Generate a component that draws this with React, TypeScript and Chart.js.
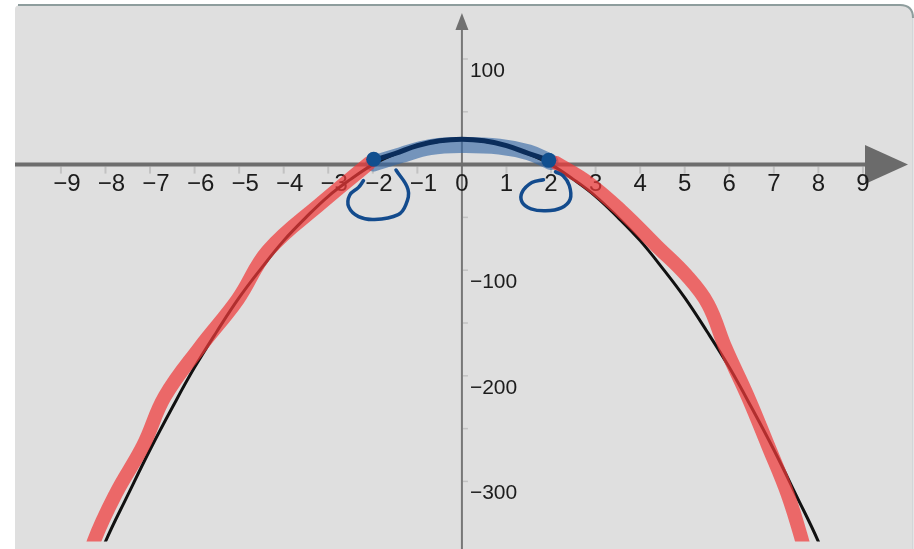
import { useEffect, useRef } from "react";
import { Chart, registerables } from "chart.js";

Chart.register(...registerables);

// Axis ticks and labels
const X_TICKS = [-9, -8, -7, -6, -5, -4, -3, -2, -1, 0, 1, 2, 3, 4, 5, 6, 7, 8, 9];
const Y_LABELS = [100, -100, -200, -300];
const Y_MINOR = [100, 50, -50, -100, -150, -200, -250, -300];

// The parabola
const CURVE_X = [-8.5, -8, -7.5, -7, -6.5, -6, -5.5, -5, -4.5, -4, -3.5, -3, -2.5, -2, -1.5, -1, -0.5, 0, 0.5, 1, 1.5, 2, 2.5, 3, 3.5, 4, 4.5, 5, 5.5, 6, 6.5, 7, 7.5, 8, 8.5];
const CURVE_Y = [-410, -357, -313, -270, -230, -192, -158, -126, -98, -72, -50, -30, -14, 0, 10, 18, 22, 24, 22, 18, 10, 0, -14, -30, -50, -72, -98, -126, -158, -192, -230, -270, -313, -357, -410];

// Dark arc between the two roots
const ARC_X = [-1.98, -1.5, -1, -0.5, 0, 0.5, 1, 1.5, 1.95];
const ARC_Y = [4, 10.5, 18, 22.5, 24, 22.5, 18, 10.5, 4];

// Light blue marker stroke under the arc
const BAND_X = [-1.99, -1.37, -0.71, 0, 0.84, 1.5, 1.99];
const BAND_Y = [1, 9, 16.5, 18.5, 17, 11.5, 2.5];

// Red marker strokes on the falling branches
const RED_LEFT_X = [-2.08, -3.13, -4.35, -5.03, -5.89, -6.67, -7.15, -7.77, -8.26, -8.34];
const RED_LEFT_Y = [1.4, -35.5, -81.5, -127.6, -173.6, -219.7, -265.7, -311.8, -356.9, -376];
const RED_RIGHT_X = [2.12, 2.83, 3.6, 4.37, 5.03, 5.52, 5.92, 6.42, 6.87, 7.31, 7.64, 7.7];
const RED_RIGHT_Y = [1.4, -17, -44.7, -77, -104.5, -132, -174, -220, -266, -312, -357, -370];

// Root markers
const ROOT_X = [-1.98, 1.95];
const ROOT_Y = [5, 4];

// Hand-drawn loops around the root labels
const LOOP_LEFT_X = [-1.48, -1.21, -1.26, -1.43, -1.96, -2.32, -2.54, -2.52, -2.32, -2.21];
const LOOP_LEFT_Y = [-5.1, -23.5, -38.2, -47.4, -52, -49.3, -40.1, -29, -21.6, -15.2];
const LOOP_RIGHT_X = [1.83, 1.57, 1.35, 1.35, 1.55, 1.88, 2.23, 2.43, 2.41, 2.27, 2.1];
const LOOP_RIGHT_Y = [-14.3, -17, -26.3, -35.5, -41.9, -43.8, -41, -32.7, -19.8, -10.6, -6.9];

const pts = (xs: number[], ys: number[]) => xs.map((x, i) => ({ x, y: ys[i] }));

const FONT = '"Liberation Sans", Arial, sans-serif';

const panelPlugin = {
  id: "panel",
  beforeDraw(chart: any) {
    const ctx = chart.ctx as CanvasRenderingContext2D;
    const l = 15, t = 5, r = 913, b = 580, rad = 13;
    ctx.save();
    ctx.beginPath();
    ctx.moveTo(l, b);
    ctx.lineTo(l, t + 4);
    ctx.quadraticCurveTo(l, t, l + 6, t);
    ctx.lineTo(r - rad, t);
    ctx.quadraticCurveTo(r, t, r, t + rad);
    ctx.lineTo(r, b);
    ctx.closePath();
    ctx.fillStyle = "#dfdfdf";
    ctx.fill();
    ctx.beginPath();
    ctx.moveTo(r, t + rad);
    ctx.lineTo(r, b);
    ctx.lineWidth = 1;
    ctx.strokeStyle = "#c7cdcf";
    ctx.stroke();
    ctx.beginPath();
    ctx.moveTo(l + 3, t);
    ctx.lineTo(r - rad, t);
    ctx.quadraticCurveTo(r, t, r, t + rad);
    ctx.lineWidth = 2;
    ctx.strokeStyle = "#8e9d9d";
    ctx.stroke();
    ctx.restore();
  },
};

const axesPlugin = {
  id: "axes",
  beforeDatasetsDraw(chart: any) {
    const ctx = chart.ctx as CanvasRenderingContext2D;
    const xs = chart.scales.x;
    const ys = chart.scales.y;
    const x0 = xs.getPixelForValue(0);
    const y0 = ys.getPixelForValue(0);
    ctx.save();

    // minor ticks
    ctx.strokeStyle = "#c2c2c2";
    ctx.lineWidth = 2;
    X_TICKS.forEach((v) => {
      if (v === 0) return;
      const px = xs.getPixelForValue(v);
      ctx.beginPath();
      ctx.moveTo(px, y0 + 2);
      ctx.lineTo(px, y0 + 9);
      ctx.stroke();
    });
    ctx.lineWidth = 1.5;
    Y_MINOR.forEach((v) => {
      const py = ys.getPixelForValue(v);
      ctx.beginPath();
      ctx.moveTo(x0 + 1, py);
      ctx.lineTo(x0 + 6, py);
      ctx.stroke();
    });

    // y axis
    ctx.strokeStyle = "#777777";
    ctx.lineWidth = 2;
    ctx.beginPath();
    ctx.moveTo(x0, 28);
    ctx.lineTo(x0, chart.height);
    ctx.stroke();
    ctx.fillStyle = "#707070";
    ctx.beginPath();
    ctx.moveTo(x0, 13);
    ctx.lineTo(x0 - 6.5, 30);
    ctx.lineTo(x0 + 6.5, 30);
    ctx.closePath();
    ctx.fill();

    // x axis
    ctx.strokeStyle = "#6d6d6d";
    ctx.lineWidth = 4;
    ctx.beginPath();
    ctx.moveTo(15, y0);
    ctx.lineTo(868, y0);
    ctx.stroke();
    ctx.fillStyle = "#6b6b6b";
    ctx.beginPath();
    ctx.moveTo(865, y0 - 19.5);
    ctx.lineTo(908, y0);
    ctx.lineTo(865, y0 + 19.5);
    ctx.closePath();
    ctx.fill();

    // labels
    ctx.fillStyle = "#1c1c1c";
    ctx.textBaseline = "middle";
    ctx.textAlign = "center";
    ctx.font = `24px ${FONT}`;
    X_TICKS.forEach((v) => {
      const px = xs.getPixelForValue(v);
      const txt = v < 0 ? `\u2212${Math.abs(v)}` : `${v}`;
      ctx.fillText(txt, v < 0 ? px + 6 : px, y0 + 20);
    });
    ctx.textAlign = "left";
    ctx.font = `21px ${FONT}`;
    Y_LABELS.forEach((v) => {
      const py = ys.getPixelForValue(v);
      const txt = v < 0 ? `\u2212${Math.abs(v)}` : `${v}`;
      ctx.fillText(txt, x0 + 8, py + 12);
    });
    ctx.restore();
  },
};

export default function App() {
  const ref = useRef<HTMLCanvasElement>(null);

  useEffect(() => {
    if (!ref.current) return;
    const line = (data: any[], color: string, width: number, order: number, extra: any = {}) => ({
      data,
      borderColor: color,
      borderWidth: width,
      pointRadius: 0,
      fill: false,
      tension: 0.4,
      borderCapStyle: "round",
      borderJoinStyle: "round",
      order,
      ...extra,
    });
    const chart = new Chart(ref.current, {
      type: "line",
      data: {
        datasets: [
          line(pts(LOOP_LEFT_X, LOOP_LEFT_Y), "#134b8d", 3.5, 1),
          line(pts(LOOP_RIGHT_X, LOOP_RIGHT_Y), "#134b8d", 3.5, 1),
          {
            data: pts(ROOT_X, ROOT_Y),
            showLine: false,
            pointRadius: 7.5,
            pointBackgroundColor: "#114f8f",
            pointBorderWidth: 0,
            order: 2,
          },
          line(pts(ARC_X, ARC_Y), "#0b2d5b", 5, 3),
          line(pts(RED_LEFT_X, RED_LEFT_Y), "rgba(240, 58, 58, 0.72)", 14, 4),
          line(pts(RED_RIGHT_X, RED_RIGHT_Y), "rgba(240, 58, 58, 0.72)", 14, 4),
          line(pts(CURVE_X, CURVE_Y), "#111111", 3, 5),
          line(pts(BAND_X, BAND_Y), "rgba(50, 102, 165, 0.62)", 16, 6),
        ],
      },
      options: {
        animation: false,
        responsive: false,
        events: [],
        layout: { padding: 0 },
        plugins: { legend: { display: false }, tooltip: { enabled: false } },
        scales: {
          x: { type: "linear", min: -10.199, max: 9.978, display: false },
          y: { type: "linear", min: -356.9, max: 148.75, display: false },
        },
      },
      plugins: [panelPlugin, axesPlugin],
    });
    return () => chart.destroy();
  }, []);

  return (
    <div style={{ position: "fixed", left: 0, top: 0, width: 914, height: 549, background: "#ffffff" }}>
      <canvas ref={ref} width={914} height={549} style={{ display: "block" }} />
    </div>
  );
}
